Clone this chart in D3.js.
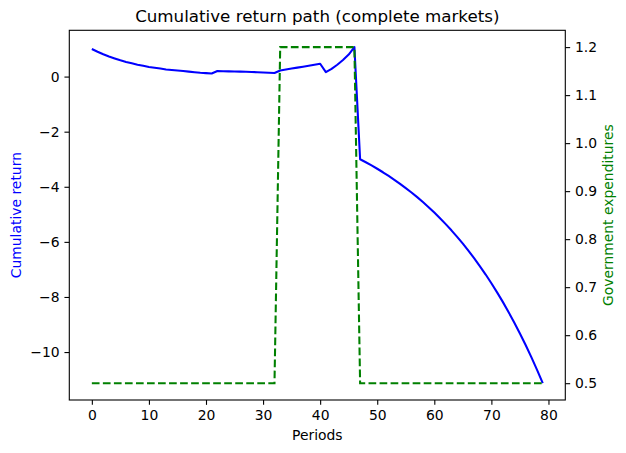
<!DOCTYPE html>
<html><head><meta charset="utf-8">
<script src="https://cdn.jsdelivr.net/npm/d3@7"></script>
<style>body{margin:0;background:#fff;} text{font-family:"DejaVu Sans",sans-serif;}</style>
</head><body><svg id="c" width="626" height="453"></svg>
<script>
const periods = d3.range(0, 80);
const cumulativeReturn = [
  1.00, 0.90, 0.81, 0.73, 0.66, 0.59, 0.53, 0.48, 0.43, 0.39,
  0.35, 0.32, 0.29, 0.26, 0.24, 0.22, 0.20, 0.18, 0.16, 0.14,
  0.125, 0.11, 0.20, 0.195, 0.19, 0.185, 0.18, 0.175, 0.165, 0.16,
  0.15, 0.14, 0.13, 0.22, 0.255, 0.29, 0.325, 0.36, 0.395, 0.43,
  0.465, 0.16, 0.28, 0.43, 0.60, 0.80, 1.07, -3.00, -3.110, -3.225,
  -3.346, -3.473, -3.607, -3.746, -3.893, -4.047, -4.208, -4.377, -4.555, -4.741,
  -4.936, -5.141, -5.356, -5.581, -5.818, -6.066, -6.326, -6.599, -6.886, -7.186,
  -7.501, -7.832, -8.179, -8.542, -8.924, -9.324, -9.744, -10.185, -10.647, -11.13
];
const govExpenditures = periods.map(t => (t >= 33 && t <= 46) ? 1.2 : 0.5);
const xTicks = [0, 10, 20, 30, 40, 50, 60, 70, 80];
const yLeftTicks = [-10, -8, -6, -4, -2, 0];
const yRightTicks = [0.5, 0.6, 0.7, 0.8, 0.9, 1.0, 1.1, 1.2];

const L = 69.3, R = 565.3, T = 30.3, B = 400;
const svg = d3.select("#c");

function padDomain(ext){ const r = ext[1]-ext[0]; return [ext[0]-0.05*r, ext[1]+0.05*r]; }
const x = d3.scaleLinear().domain(padDomain(d3.extent(periods))).range([L, R]);
const yL = d3.scaleLinear().domain(padDomain(d3.extent(cumulativeReturn))).range([B, T]);
const yR = d3.scaleLinear().domain(padDomain(d3.extent(govExpenditures))).range([B, T]);

const fs = 13.9;
const lw = 2.08;
// blue line
svg.append("path").datum(periods)
  .attr("d", d3.line().x(t => x(t)).y(t => yL(cumulativeReturn[t])))
  .attr("fill","none").attr("stroke","#0000ff").attr("stroke-width",lw)
  .attr("stroke-linejoin","round");
// green dashed
svg.append("path").datum(periods)
  .attr("d", d3.line().x(t => x(t)).y(t => yR(govExpenditures[t])))
  .attr("fill","none").attr("stroke","#008000").attr("stroke-width",lw)
  .attr("stroke-dasharray","7.7,3.33");

// axes
const tickLen = 4.86, pad = 4.86;
const xAxis = d3.axisBottom(x).tickValues(xTicks).tickSize(tickLen).tickPadding(pad).tickFormat(d3.format("d"));
const gx = svg.append("g").attr("transform",`translate(0,${B})`).call(xAxis);
const yAxisL = d3.axisLeft(yL).tickValues(yLeftTicks).tickSize(tickLen).tickPadding(pad).tickFormat(d3.format("d"));
const gyl = svg.append("g").attr("transform",`translate(${L},0)`).call(yAxisL);
const yAxisR = d3.axisRight(yR).tickValues(yRightTicks).tickSize(tickLen).tickPadding(pad).tickFormat(d3.format(".1f"));
const gyr = svg.append("g").attr("transform",`translate(${R},0)`).call(yAxisR);
[gx, gyl, gyr].forEach(g => {
  g.select(".domain").remove();
  g.selectAll(".tick line").attr("stroke","#000").attr("stroke-width",1.1);
  g.selectAll(".tick text").attr("fill","#000").style("font-size", fs+"px").style("font-family","DejaVu Sans");
});
// spines
svg.append("rect").attr("x",L).attr("y",T).attr("width",R-L).attr("height",B-T)
  .attr("fill","none").attr("stroke","#000").attr("stroke-width",1.1);

// labels
svg.append("text").attr("x",(L+R)/2).attr("y",22).attr("text-anchor","middle")
  .style("font-size","16.7px").text("Cumulative return path (complete markets)");
svg.append("text").attr("x",(L+R)/2).attr("y",440).attr("text-anchor","middle")
  .style("font-size",fs+"px").text("Periods");
svg.append("text").attr("transform",`translate(21,${(T+B)/2}) rotate(-90)`).attr("text-anchor","middle")
  .attr("fill","#0000ff").style("font-size",fs+"px").text("Cumulative return");
svg.append("text").attr("transform",`translate(613,${(T+B)/2}) rotate(-90)`).attr("text-anchor","middle")
  .attr("fill","#008000").style("font-size",fs+"px").text("Government expenditures");
</script></body></html>
